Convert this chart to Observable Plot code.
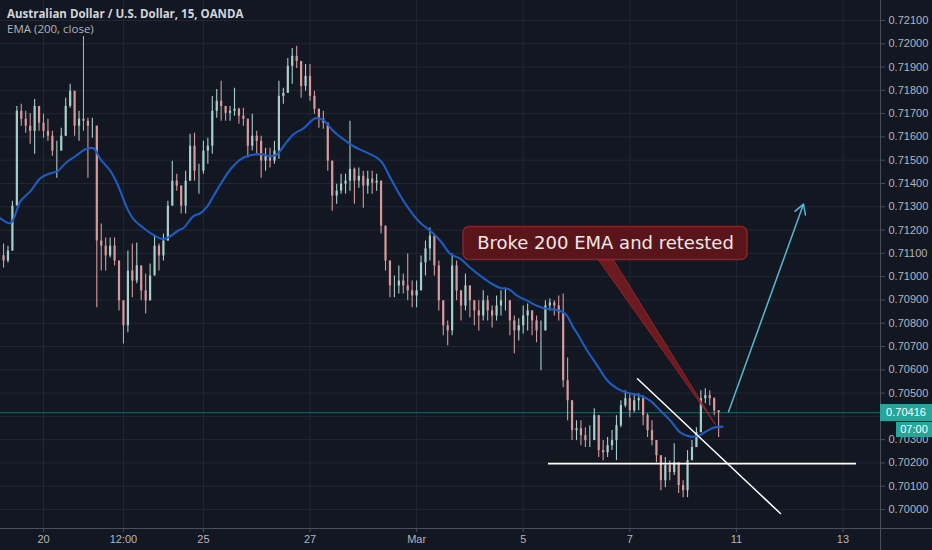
<!DOCTYPE html>
<html><head><meta charset="utf-8">
<script src="https://cdn.jsdelivr.net/npm/d3@7"></script>
<script src="https://cdn.jsdelivr.net/npm/@observablehq/plot@0.6"></script>
<style>
html,body{margin:0;padding:0;background:#131722;}
#wrap{position:relative;width:932px;height:550px;overflow:hidden;background:#131722;}
#wrap svg{display:block;}
.t1{position:absolute;left:7px;top:6px;height:16px;line-height:16px;font:bold 11.5px "Open Sans",sans-serif;color:#d1d4dc;white-space:nowrap;}
.t2{position:absolute;left:7px;top:21px;height:14px;line-height:14px;font:11.5px "Open Sans",sans-serif;color:#b2b5be;white-space:nowrap;}
.tag{position:absolute;background:#26a69a;color:#fff;font:11px "Liberation Sans",sans-serif;text-align:center;box-sizing:border-box;}
</style></head><body><div id="wrap"></div>
<script>
// ---- data (AUD/USD 15m, sampled every 2 trading hours; x in trading days from Feb 20) ----
const barStart = -0.75, barStep = 1 / 12, firstOpen = 0.71090;
const high = [0.71140,0.71131,0.71324,0.71731,0.71740,0.71710,0.71701,0.71761,0.71731,0.71697,
0.71676,0.71624,0.71581,0.71637,0.71766,0.71826,0.71753,0.71710,0.72031,0.71680,
0.71680,0.71646,0.71226,0.71166,0.71166,0.71166,0.71054,0.70896,0.71110,0.71140,
0.71144,0.71046,0.71011,0.71054,0.71174,0.71140,0.71183,0.71324,0.71496,0.71440,
0.71389,0.71453,0.71611,0.71616,0.71483,0.71581,0.71594,0.71774,0.71804,0.71839,
0.71723,0.71731,0.71809,0.71723,0.71723,0.71667,0.71697,0.71624,0.71603,0.71551,
0.71551,0.71581,0.71839,0.71809,0.71937,0.71980,0.71989,0.71894,0.71911,0.71911,
0.71796,0.71710,0.71710,0.71646,0.71483,0.71397,0.71440,0.71440,0.71667,0.71466,
0.71466,0.71453,0.71453,0.71453,0.71440,0.71380,0.71217,0.71067,0.71003,0.71046,
0.71011,0.71097,0.70981,0.70981,0.71089,0.71153,0.71209,0.71183,0.71067,0.70896,
0.70810,0.71097,0.71067,0.70917,0.71011,0.70960,0.70896,0.70896,0.70939,0.70917,
0.70874,0.70917,0.70939,0.70951,0.70896,0.70831,0.70819,0.70874,0.70883,0.70853,
0.70831,0.70810,0.70896,0.70904,0.70896,0.70917,0.70926,0.70651,0.70424,0.70381,
0.70381,0.70351,0.70360,0.70433,0.70309,0.70296,0.70309,0.70339,0.70403,0.70467,
0.70510,0.70497,0.70497,0.70497,0.70489,0.70411,0.70381,0.70296,0.70210,0.70223,
0.70210,0.70283,0.70167,0.70124,0.70253,0.70296,0.70351,0.70510,0.70519,0.70510,
0.70480,0.70424];
const low = [0.71037,0.71059,0.71131,0.71410,0.71646,0.71616,0.71569,0.71526,0.71624,0.71594,
0.71581,0.71517,0.71423,0.71539,0.71646,0.71723,0.71603,0.71581,0.71624,0.71423,
0.71594,0.70866,0.71024,0.71024,0.71080,0.71046,0.70853,0.70711,0.70759,0.70909,
0.70969,0.70896,0.70840,0.70896,0.71024,0.71024,0.71067,0.71174,0.71337,0.71367,
0.71269,0.71269,0.71474,0.71410,0.71354,0.71440,0.71483,0.71526,0.71680,0.71667,
0.71667,0.71667,0.71689,0.71654,0.71646,0.71509,0.71539,0.71526,0.71423,0.71453,
0.71466,0.71483,0.71504,0.71740,0.71839,0.71826,0.71894,0.71766,0.71796,0.71753,
0.71697,0.71637,0.71633,0.71453,0.71281,0.71311,0.71354,0.71354,0.71367,0.71311,
0.71380,0.71294,0.71354,0.71354,0.71367,0.71183,0.71024,0.70909,0.70909,0.70926,
0.70926,0.70896,0.70866,0.70866,0.70939,0.71003,0.71067,0.71003,0.70853,0.70746,
0.70703,0.70746,0.70896,0.70810,0.70853,0.70823,0.70789,0.70767,0.70810,0.70810,
0.70780,0.70810,0.70831,0.70853,0.70746,0.70669,0.70724,0.70754,0.70767,0.70746,
0.70716,0.70596,0.70767,0.70853,0.70831,0.70810,0.70523,0.70381,0.70296,0.70296,
0.70274,0.70266,0.70266,0.70330,0.70223,0.70210,0.70223,0.70253,0.70210,0.70351,
0.70437,0.70394,0.70416,0.70424,0.70360,0.70309,0.70274,0.70201,0.70081,0.70094,
0.70124,0.70146,0.70069,0.70051,0.70051,0.70231,0.70274,0.70339,0.70454,0.70446,
0.70403,0.70309];
const close = [0.71067,0.71110,0.71303,0.71710,0.71676,0.71646,0.71624,0.71731,0.71659,0.71624,
0.71603,0.71539,0.71539,0.71603,0.71731,0.71796,0.71646,0.71676,0.71667,0.71646,
0.71646,0.71153,0.71131,0.71089,0.71131,0.71067,0.70896,0.70789,0.71024,0.70981,
0.71046,0.70939,0.70896,0.71003,0.71131,0.71089,0.71153,0.71303,0.71410,0.71389,
0.71303,0.71410,0.71560,0.71453,0.71453,0.71539,0.71560,0.71710,0.71753,0.71731,
0.71701,0.71710,0.71719,0.71689,0.71676,0.71560,0.71603,0.71581,0.71496,0.71517,
0.71496,0.71539,0.71774,0.71787,0.71903,0.71946,0.71924,0.71817,0.71860,0.71774,
0.71719,0.71676,0.71659,0.71496,0.71346,0.71367,0.71397,0.71410,0.71461,0.71410,
0.71431,0.71389,0.71419,0.71401,0.71410,0.71217,0.71067,0.70960,0.70960,0.70981,
0.70960,0.70939,0.70917,0.70939,0.71059,0.71119,0.71174,0.71046,0.70896,0.70789,
0.70767,0.71046,0.70939,0.70874,0.70960,0.70896,0.70853,0.70831,0.70896,0.70853,
0.70831,0.70874,0.70896,0.70896,0.70810,0.70767,0.70789,0.70831,0.70853,0.70810,
0.70767,0.70767,0.70874,0.70887,0.70874,0.70844,0.70553,0.70467,0.70339,0.70347,
0.70317,0.70296,0.70296,0.70403,0.70253,0.70244,0.70274,0.70296,0.70360,0.70446,
0.70476,0.70424,0.70467,0.70476,0.70403,0.70339,0.70296,0.70231,0.70124,0.70189,
0.70159,0.70201,0.70103,0.70081,0.70210,0.70266,0.70330,0.70476,0.70489,0.70476,
0.70424,0.70416];
// EMA(200, close)
const emaT = [-0.807,-0.619,-0.432,-0.244,-0.056,0.131,0.263,0.413,0.600,0.788,0.938,1.069,1.257,1.388,1.576,1.689,1.876,2.064,2.251,2.383,2.514,2.627,2.814,2.946,3.077,3.189,3.321,3.508,3.696,3.884,4.071,4.259,4.390,4.503,4.690,4.878,5.103,5.253,5.441,5.629,5.816,6.004,6.266,6.360,6.510,6.698,6.886,7.073,7.261,7.448,7.636,7.824,8.011,8.199,8.386,8.574,8.724,8.893,9.081,9.268,9.456,9.644,9.794,9.944,10.019,10.206,10.394,10.582,10.769,10.957,11.201,11.388,11.576,11.764,11.951,12.139,12.289,12.458,12.570,12.739];
const emaV = [0.71251,0.71230,0.71324,0.71367,0.71423,0.71444,0.71453,0.71487,0.71517,0.71547,0.71551,0.71504,0.71453,0.71397,0.71290,0.71247,0.71209,0.71179,0.71161,0.71174,0.71196,0.71209,0.71260,0.71273,0.71303,0.71346,0.71397,0.71461,0.71504,0.71521,0.71526,0.71517,0.71526,0.71560,0.71611,0.71637,0.71680,0.71671,0.71624,0.71590,0.71560,0.71539,0.71509,0.71487,0.71423,0.71346,0.71281,0.71230,0.71196,0.71153,0.71097,0.71076,0.71037,0.71003,0.70973,0.70951,0.70947,0.70917,0.70896,0.70874,0.70861,0.70857,0.70840,0.70780,0.70754,0.70681,0.70617,0.70553,0.70519,0.70501,0.70489,0.70467,0.70424,0.70381,0.70330,0.70313,0.70317,0.70339,0.70351,0.70356];
const xTickPos = [0, 1.5, 3, 5, 7, 9, 11, 13, 15];
const xTickLabels = ["20", "12:00", "25", "27", "Mar", "5", "7", "11", "13"];
const yTicks = [0.700,0.701,0.702,0.703,0.704,0.705,0.706,0.707,0.708,0.709,0.710,0.711,0.712,0.713,0.714,0.715,0.716,0.717,0.718,0.719,0.720,0.721];
const lastPrice = 0.70416, lastLabel = "0.70416", countdown = "07:00";
// drawings
const supportLevel = 0.70197, supportSpan = [9.475, 15.253];
const trendLine = [{t: 11.144, p: 0.705615}, {t: 13.827, p: 0.699829}];
const arrowPath = [{t1: 12.852, p1: 0.70420, t2: 14.259, p2: 0.713115}];
const calloutText = "Broke 200 EMA and retested";
const calloutBox = [{t1: 7.880, t2: 13.208, p1: 0.710715, p2: 0.712129}];
const calloutAnchor = {t: 10.544, p: 0.711444};
const calloutWedge = [{t: 10.413, p: 0.710715}, {t: 10.694, p: 0.710715}, {t: 12.608, p: 0.703643}, {t: 10.413, p: 0.710715}];

// ---- build ----
const bars = close.map((c, i) => {
  const o = i ? close[i - 1] : firstOpen;
  return {t: barStart + i * barStep, o, c, h: Math.max(high[i], o, c), l: Math.min(low[i], o, c), up: c >= o};
});
const ema = emaT.map((t, i) => ({t, p: emaV[i]}));
const lab = new Map(xTickPos.map((p, i) => [p, xTickLabels[i]]));
// the last-price tag hides the tick label it covers, as on the original chart
const yLabelTicks = yTicks.filter(v => Math.abs(v - lastPrice) > 0.0004);
const upC = "#a6cfca", dnC = "#d69a9d";

const plot = Plot.plot({
  width: 932, height: 550,
  marginLeft: 0, marginRight: 52, marginTop: 0, marginBottom: 22,
  style: {background: "#131722", color: "#b2b5be", fontFamily: "'Liberation Sans', Arial, sans-serif", fontSize: "11px"},
  x: {domain: [-0.8068, 15.7036]},
  y: {domain: [0.699186, 0.721857]},
  marks: [
    Plot.gridY(yTicks, {stroke: "#232734", strokeOpacity: 1}),
    Plot.gridX(xTickPos, {stroke: "#232734", strokeOpacity: 1}),
    Plot.ruleY([lastPrice], {stroke: "#26a69a", strokeOpacity: 0.55, strokeWidth: 1}),
    Plot.ruleX(bars, {x: "t", y1: "l", y2: "h", stroke: d => d.up ? upC : dnC, strokeWidth: 1.1}),
    Plot.ruleX(bars, {x: "t", y1: "o", y2: "c", stroke: d => d.up ? upC : dnC, strokeWidth: 2.2}),
    Plot.line(ema, {x: "t", y: "p", stroke: "#1e5cc2", strokeWidth: 2.1, curve: "catmull-rom"}),
    Plot.ruleY([supportLevel], {x1: supportSpan[0], x2: supportSpan[1], stroke: "#ffffff", strokeWidth: 1.6}),
    Plot.line(trendLine, {x: "t", y: "p", stroke: "#ffffff", strokeWidth: 1.5}),
    Plot.arrow(arrowPath, {x1: "t1", y1: "p1", x2: "t2", y2: "p2", stroke: "#55b8cf", strokeWidth: 1.5, headLength: 11, bend: 0}),
    Plot.line(calloutWedge, {x: "t", y: "p", fill: "#8a1c20", fillOpacity: 0.75, stroke: "#a3262a", strokeWidth: 1, strokeOpacity: 0.8}),
    Plot.rect(calloutBox, {x1: "t1", x2: "t2", y1: "p1", y2: "p2", fill: "#5f151a", fillOpacity: 0.93, stroke: "#8a2328", strokeWidth: 1.5, rx: 6}),
    Plot.text([calloutAnchor], {x: "t", y: "p", text: () => calloutText, fill: "#f2e6e6", fontSize: 18, fontFamily: "'DejaVu Sans', sans-serif"}),
    Plot.ruleX([15.7036], {stroke: "#4a4f5c", insetBottom: -22}),
    Plot.ruleY([0.699186], {stroke: "#4a4f5c", insetRight: -52}),
    Plot.axisY(yLabelTicks, {anchor: "right", tickSize: 4, tickPadding: 4, tickFormat: d3.format(".5f"), stroke: "#4a4f5c", fill: "#b2b5be", label: null}),
    Plot.axisX(xTickPos, {anchor: "bottom", tickSize: 4, tickPadding: 3, tickFormat: d => lab.get(d), stroke: "#4a4f5c", fill: "#b2b5be", label: null})
  ]
});
const wrap = document.getElementById("wrap");
wrap.appendChild(plot);
const t1 = document.createElement("div"); t1.className = "t1"; t1.textContent = "Australian Dollar / U.S. Dollar, 15, OANDA"; wrap.appendChild(t1);
const t2 = document.createElement("div"); t2.className = "t2"; t2.textContent = "EMA (200, close)"; wrap.appendChild(t2);
const yPix = plot.scale("y").apply(lastPrice);
const tag = document.createElement("div"); tag.className = "tag"; tag.textContent = lastLabel;
Object.assign(tag.style, {left: "880px", top: (yPix - 8.5) + "px", width: "52px", height: "17px", lineHeight: "17px"});
wrap.appendChild(tag);
const tag2 = document.createElement("div"); tag2.className = "tag"; tag2.textContent = countdown;
Object.assign(tag2.style, {left: "896px", top: (yPix + 9.5) + "px", width: "36px", height: "15px", lineHeight: "15px", fontSize: "11px"});
wrap.appendChild(tag2);
</script></body></html>
